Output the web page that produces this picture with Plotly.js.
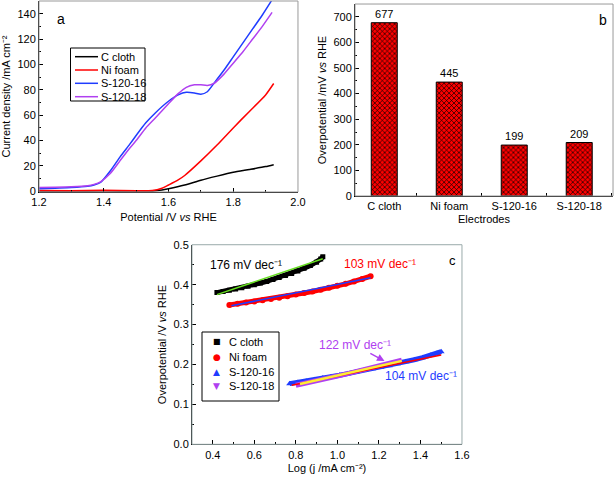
<!DOCTYPE html>
<html><head><meta charset="utf-8">
<script src="https://cdn.plot.ly/plotly-3.0.1.min.js"></script>
<style>html,body{margin:0;padding:0;background:#fff}#chart{width:614px;height:479px}</style>
</head><body><div id="chart"></div>
<script>
// ---- Panel a: LSV curves ----
const potC = [1.20,1.30,1.40,1.50,1.55,1.58,1.60,1.65,1.70,1.75,1.80,1.85,1.90,1.925];
const jCcloth = [0.3,0.3,0.4,0.3,0.3,1.0,2.0,5.0,8.8,12.0,15.0,17.2,19.5,21.0];
const potN = [1.20,1.30,1.40,1.50,1.55,1.58,1.60,1.63,1.65,1.70,1.75,1.80,1.85,1.90,1.925];
const jNifoam = [0.6,0.5,0.8,0.4,0.6,2.5,5.0,9.0,12.5,24.0,36.5,50.0,63.0,76.0,85.0];
const potS = [1.20,1.25,1.30,1.35,1.37,1.39,1.42,1.45,1.48,1.50,1.53,1.56,1.60,1.63,1.655,1.68,1.70,1.72,1.74,1.77,1.80,1.83,1.86,1.89,1.92];
const jS16 = [2.0,2.5,3.0,4.0,5.0,7.0,16.0,27.0,37.0,44.0,54.0,62.0,71.0,76.0,78.0,77.5,76.5,78.5,85.0,95.0,106.0,117.0,128.0,139.0,151.0];
const jS18 = [3.0,3.2,3.6,4.5,5.5,7.5,14.0,24.0,34.0,40.0,50.0,58.0,69.0,77.0,82.0,84.0,84.0,83.5,85.0,92.0,101.0,110.0,120.0,130.0,141.0];

// ---- Panel b: overpotential bars ----
const electrodes = ['C cloth','Ni foam','S-120-16','S-120-18'];
const overpot = [677,445,199,209];

// ---- Panel c: Tafel plots ----
const logjC = [0.42,0.45,0.48,0.51,0.54,0.57,0.60,0.63,0.66,0.69,0.72,0.75,0.78,0.81,0.84,0.87,0.90,0.92,0.93];
const etaC  = [0.380,0.383,0.386,0.389,0.392,0.396,0.400,0.404,0.408,0.413,0.418,0.423,0.428,0.434,0.441,0.448,0.456,0.464,0.470];
const logjN = [0.48,0.52,0.56,0.60,0.64,0.68,0.72,0.76,0.80,0.84,0.88,0.92,0.96,1.00,1.04,1.08,1.12,1.16];
const etaN  = [0.349,0.352,0.355,0.358,0.361,0.364,0.367,0.371,0.375,0.379,0.383,0.387,0.392,0.397,0.402,0.408,0.414,0.421];
const logj16 = [0.77,0.81,0.85,0.89,0.93,0.97,1.01,1.05,1.09,1.13,1.17,1.21,1.25,1.29,1.33,1.37,1.41,1.45,1.48,1.50];
const eta16  = [0.152,0.155,0.158,0.162,0.166,0.169,0.173,0.177,0.181,0.185,0.189,0.193,0.197,0.202,0.207,0.212,0.217,0.223,0.228,0.232];
const logj18 = [0.80,0.84,0.88,0.92,0.96,1.00,1.04,1.08,1.12,1.16,1.20,1.24,1.28,1.31];
const eta18  = [0.148,0.152,0.157,0.161,0.166,0.171,0.176,0.181,0.186,0.191,0.196,0.201,0.206,0.211];
// fitted lines (end points)
const fitCx = [0.42,0.93], fitCy = [0.375,0.465];
const fitNx = [0.49,1.16], fitNy = [0.347,0.417];
const fit16x = [0.78,1.50], fit16y = [0.148,0.224];
const fit18x = [0.82,1.31], fit18y = [0.151,0.209];
const tafelLabels = ['176 mV dec⁻¹','103 mV dec⁻¹','122 mV dec⁻¹','104 mV dec⁻¹'];
const seriesNames = ['C cloth','Ni foam','S-120-16','S-120-18'];

const F = 'Liberation Sans, Arial, sans-serif';
const COL = {k:'#000000',r:'#ff0000',b:'#1f3cff',p:'#b040f0'};
const sp = {shape:'spline',smoothing:0.6};
const traces = [
  {x:potC,y:jCcloth,name:seriesNames[0],mode:'lines',line:Object.assign({color:COL.k,width:1.5},sp),xaxis:'x',yaxis:'y',showlegend:false},
  {x:potN,y:jNifoam,name:seriesNames[1],mode:'lines',line:Object.assign({color:COL.r,width:1.5},sp),xaxis:'x',yaxis:'y',showlegend:false},
  {x:potS,y:jS16,name:seriesNames[2],mode:'lines',line:Object.assign({color:COL.b,width:1.5},sp),xaxis:'x',yaxis:'y',showlegend:false},
  {x:potS,y:jS18,name:seriesNames[3],mode:'lines',line:Object.assign({color:COL.p,width:1.5},sp),xaxis:'x',yaxis:'y',showlegend:false},
  {x:electrodes,y:overpot,type:'bar',width:0.4,xaxis:'x2',yaxis:'y2',showlegend:false,
   marker:{color:'#ff0000',line:{color:'#000',width:1},pattern:{shape:'x',fgcolor:'#000000',bgcolor:'#ff0000',size:3.5,solidity:0.35}},
   text:overpot.map(String),textposition:'outside',textfont:{family:F,size:11,color:'#000'},cliponaxis:false},
  // Tafel data bands
  {x:logjC,y:etaC,name:seriesNames[0],mode:'lines+markers',line:{color:COL.k,width:5},marker:{symbol:'square',color:COL.k,size:5},xaxis:'x3',yaxis:'y3',showlegend:false},
  {x:logjN,y:etaN,name:seriesNames[1],mode:'lines+markers',line:{color:COL.r,width:5},marker:{symbol:'circle',color:COL.r,size:6},xaxis:'x3',yaxis:'y3',showlegend:false},
  {x:logj16,y:eta16,name:seriesNames[2],mode:'lines+markers',line:{color:COL.b,width:5},marker:{symbol:'triangle-up',color:COL.b,size:6},xaxis:'x3',yaxis:'y3',showlegend:false},
  {x:logj18,y:eta18,name:seriesNames[3],mode:'lines',line:{color:COL.p,width:5},xaxis:'x3',yaxis:'y3',showlegend:false},
  // fits
  {x:fitCx,y:fitCy,mode:'lines',line:{color:'#66dd22',width:1.5},xaxis:'x3',yaxis:'y3',showlegend:false},
  {x:fitNx,y:fitNy,mode:'lines',line:{color:COL.b,width:1.5},xaxis:'x3',yaxis:'y3',showlegend:false},
  {x:fit16x,y:fit16y,mode:'lines',line:{color:COL.r,width:1.5},xaxis:'x3',yaxis:'y3',showlegend:false},
  {x:fit18x,y:fit18y,mode:'lines',line:{color:'#ffee33',width:2.5},xaxis:'x3',yaxis:'y3',showlegend:false}
];

const ax = {showgrid:false,zeroline:false,showline:true,linecolor:'#000',linewidth:1,ticks:'inside',ticklen:4,tickcolor:'#000',
  tickfont:{family:F,size:11,color:'#000'}};
function A(o){return Object.assign({},ax,o);}
const tf = {family:F,size:11,color:'#000'};

// manual legends (paper coords from pixel positions)
const W=614,H=479;
const px=v=>v/W, py=v=>1-v/H;
const shapes = [
  {type:'rect',xref:'x domain',yref:'y domain',x0:0,x1:1,y0:0,y1:1,line:{color:'#999',width:1}},
  {type:'rect',xref:'x2 domain',yref:'y2 domain',x0:0,x1:1,y0:0,y1:1,line:{color:'#999',width:1}},
  {type:'rect',xref:'x3 domain',yref:'y3 domain',x0:0,x1:1,y0:0,y1:1,line:{color:'#9aa',width:1}},
  {type:'rect',xref:'paper',yref:'paper',x0:px(70.5),x1:px(145),y0:py(48),y1:py(101),line:{color:'#000',width:1},fillcolor:'#fff'},
  {type:'rect',xref:'paper',yref:'paper',x0:px(202),x1:px(279),y0:py(332),y1:py(401),line:{color:'#000',width:1},fillcolor:'#fff'}
];
const annotations = [
  {text:'a',xref:'x domain',yref:'y domain',x:0.06,y:0.96,showarrow:false,xanchor:'left',yanchor:'top',font:{family:F,size:14,color:'#000'}},
  {text:'b',xref:'x2 domain',yref:'y2 domain',x:0.985,y:0.97,showarrow:false,xanchor:'right',yanchor:'top',font:{family:F,size:14,color:'#000'}},
  {text:'c',xref:'x3 domain',yref:'y3 domain',x:0.985,y:0.97,showarrow:false,xanchor:'right',yanchor:'top',font:{family:F,size:13,color:'#000'}},
  {text:tafelLabels[0],xref:'x3',yref:'y3',x:0.562,y:0.449,showarrow:false,font:{family:F,size:12,color:'#000'}},
  {text:tafelLabels[1],xref:'x3',yref:'y3',x:1.203,y:0.451,showarrow:false,font:{family:F,size:12,color:COL.r}},
  {text:tafelLabels[2],xref:'x3',yref:'y3',axref:'x3',ayref:'y3',x:1.227,y:0.2085,ax:1.083,ay:0.249,showarrow:true,
   arrowhead:2,arrowsize:1,arrowwidth:1.5,arrowcolor:COL.p,font:{family:F,size:12,color:COL.p}},
  {text:tafelLabels[3],xref:'x3',yref:'y3',x:1.404,y:0.172,showarrow:false,font:{family:F,size:12,color:COL.b}}
];
const legAy=[56.7,70,83.3,96.7], legAcol=[COL.k,COL.r,COL.b,COL.p];
legAy.forEach((y,i)=>{
  shapes.push({type:'line',xref:'paper',yref:'paper',x0:px(75),x1:px(98),y0:py(y),y1:py(y),line:{color:legAcol[i],width:1.5}});
  annotations.push({text:seriesNames[i],xref:'paper',yref:'paper',x:px(99),y:py(y),xanchor:'left',yanchor:'middle',showarrow:false,font:{family:F,size:11,color:'#000'}});
});
const legCy=[341.7,357.3,371.7,386], legCsym=['■','●','▲','▼'], legCsz=[8,9,9,9];
legCy.forEach((y,i)=>{
  annotations.push({text:legCsym[i],xref:'paper',yref:'paper',x:px(216.7),y:py(y),xanchor:'center',yanchor:'middle',showarrow:false,font:{family:'DejaVu Sans',size:legCsz[i],color:legAcol[i]}});
  annotations.push({text:seriesNames[i],xref:'paper',yref:'paper',x:px(227),y:py(y),xanchor:'left',yanchor:'middle',showarrow:false,font:{family:F,size:11,color:'#000'}});
});

const layout = {
  width:W,height:H,margin:{l:0,r:0,t:0,b:0},paper_bgcolor:'#fff',plot_bgcolor:'#fff',
  font:{family:F,size:11,color:'#000'},showlegend:false,
  xaxis:A({domain:[0.0635,0.4853],range:[1.2,2.0],dtick:0.2,tickformat:'.1f',minor:{dtick:0.1,ticks:'inside',ticklen:2,tickcolor:'#000'},
    title:{text:'Potential /V <i>vs</i> RHE',font:tf,standoff:6},anchor:'y'}),
  yaxis:A({domain:[0.5992,0.9979],range:[-0.5,150],dtick:20,minor:{dtick:10,ticks:'inside',ticklen:2,tickcolor:'#000'},
    title:{text:'Current density /mA cm⁻²',font:tf,standoff:4},anchor:'x'}),
  xaxis2:A({domain:[0.5782,0.9984],range:[-0.45,3.52],tickson:'boundaries',ticklen:3,
    title:{text:'Electrodes',font:tf,standoff:4},anchor:'y2'}),
  yaxis2:A({domain:[0.5908,0.9916],range:[0,750],dtick:100,minor:{dtick:50,ticks:'inside',ticklen:2,tickcolor:'#000'},
    title:{text:'Overpotential /mV <i>vs</i> RHE',font:tf,standoff:4},anchor:'x2'}),
  xaxis3:A({domain:[0.3127,0.7524],range:[0.3,1.6],dtick:0.2,tick0:0.4,tickformat:'.1f',minor:{dtick:0.1,ticks:'inside',ticklen:2,tickcolor:'#000'},
    title:{text:'Log (j /mA cm⁻²)',font:tf,standoff:4},anchor:'y3'}),
  yaxis3:A({domain:[0.0724,0.4891],range:[0,0.5],dtick:0.1,tickformat:'.1f',minor:{dtick:0.05,ticks:'inside',ticklen:2,tickcolor:'#000'},
    title:{text:'Overpotential /V <i>vs</i> RHE',font:tf,standoff:4},anchor:'x3'}),
  shapes:shapes,annotations:annotations
};
Plotly.newPlot('chart',traces,layout,{displayModeBar:false,staticPlot:true});
</script></body></html>
